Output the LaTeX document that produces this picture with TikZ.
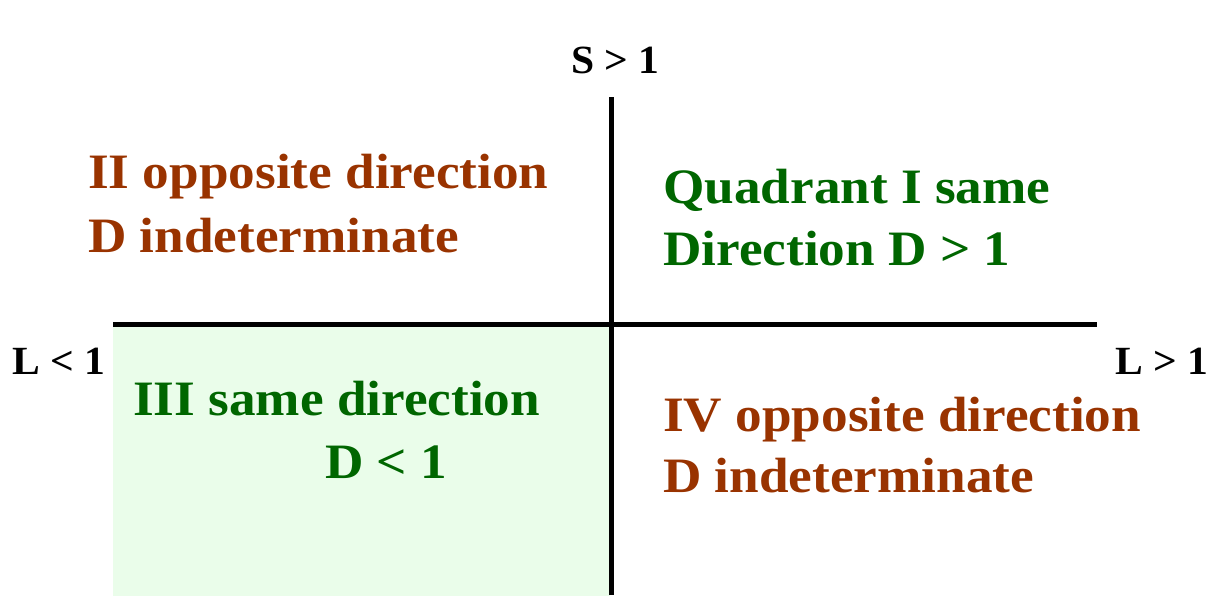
\documentclass[tikz,border=0pt]{standalone}
\usepackage{fontspec}
\setmainfont{Liberation Serif}
\definecolor{qgreen}{HTML}{006600}
\definecolor{qbrown}{HTML}{993300}
\definecolor{qfill}{HTML}{EAFDEA}
\begin{document}
\begin{tikzpicture}[x=1pt,y=-1pt,
  axis/.style={line width=5pt,black},
  lab/.style={anchor=base west,inner sep=0pt,xscale=1.04,font=\fontsize{40}{48}\selectfont\bfseries,text=black},
  qtext/.style={anchor=base west,inner sep=0pt,xscale=1.075,font=\fontsize{49.5}{64}\selectfont\bfseries},
  gtext/.style={qtext,text=qgreen},
  btext/.style={qtext,text=qbrown}]
\useasboundingbox (0,0) rectangle (1217,597);
\fill[qfill] (113,325) rectangle (610,596);
\coordinate (hl) at (113,324);
\coordinate (hr) at (1097,324);
\coordinate (vt) at (611,97);
\coordinate (vb) at (611,595);
\draw[axis] (hl) -- (hr);
\draw[axis] (vt) -- (vb);
\node[lab] (s) at (571,73) {S > 1};
\node[lab] (ll) at (12,374) {L < 1};
\node[lab] (lr) at (1115,374) {L > 1};
\node[btext] (q2a) at (88,188) {II opposite direction};
\node[btext] (q2b) at (88,252) {D indeterminate};
\node[gtext] (q1a) at (663,203) {Quadrant I same};
\node[gtext] (q1b) at (663,265) {Direction D > 1};
\node[gtext] (q3a) at (133,415) {III same direction};
\node[gtext] (q3b) at (325,478) {D < 1};
\node[btext] (q4a) at (663,431) {IV opposite direction};
\node[btext] (q4b) at (663,492) {D indeterminate};
\end{tikzpicture}
\end{document}
